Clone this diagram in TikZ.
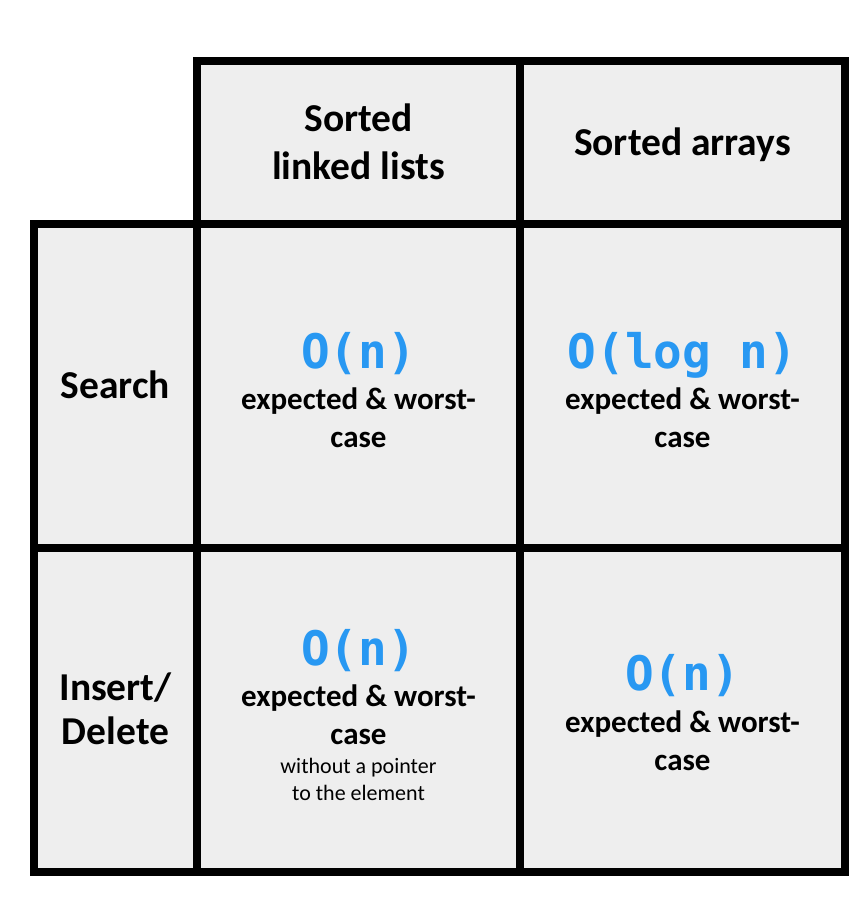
\documentclass[tikz,border=0pt]{standalone}
\usepackage{fontspec}
\setmainfont{Carlito}
\newfontfamily\monof{DejaVu Sans Mono}
\definecolor{cellgray}{RGB}{238,238,238}
\definecolor{oblue}{RGB}{40,152,242}
\tikzset{
  gridline/.style={line width=7.5pt, line join=miter, line cap=rect},
  head/.style={anchor=base, inner sep=0pt, font=\fontsize{39.5}{48}\selectfont\bfseries},
  bigo/.style={anchor=base, inner sep=0pt, text=oblue, font=\fontsize{47.6}{56}\selectfont\monof\bfseries},
  body/.style={anchor=base, inner sep=0pt, font=\fontsize{31}{38}\selectfont\bfseries},
  note/.style={anchor=base, inner sep=0pt, font=\fontsize{22}{27}\selectfont},
}
\begin{document}
\begin{tikzpicture}[x=1pt,y=-1pt]
\useasboundingbox (0,0) rectangle (864,906);
% backgrounds
\fill[cellgray] (197,61) rectangle (845,872);
\fill[cellgray] (34,224) rectangle (197,872);
% outer outline
\draw[gridline] (197,61) -- (845,61) -- (845,872) -- (34,872) -- (34,224) -- (197,224) -- cycle;
% inner lines
\draw[gridline] (197,224) -- (845,224);
\draw[gridline] (520,61) -- (520,872);
\draw[gridline] (197,224) -- (197,872);
\draw[gridline] (34,548) -- (845,548);
% headers
\node[head] (h1a) at (358.5,131) {Sorted};
\node[head] (h1b) at (358.5,179) {linked lists};
\node[head] (h2) at (682.5,155) {Sorted arrays};
\node[head] (r1) at (115.5,398) {Search};
\node[head] (r2a) at (115.5,700) {Insert/};
\node[head] (r2b) at (115.5,744) {Delete};
% row 1
\node[bigo] (c11o) at (358.5,368) {O(n)};
\node[body] (c11a) at (358.5,409) {expected \& worst-};
\node[body] (c11b) at (358.5,447) {case};
\node[bigo] (c12o) at (682.5,368) {O(log n)};
\node[body] (c12a) at (682.5,409) {expected \& worst-};
\node[body] (c12b) at (682.5,447) {case};
% row 2
\node[bigo] (c21o) at (358.5,665) {O(n)};
\node[body] (c21a) at (358.5,706) {expected \& worst-};
\node[body] (c21b) at (358.5,744) {case};
\node[note] (c21c) at (358.5,773) {without a pointer};
\node[note] (c21d) at (358.5,800) {to the element};
\node[bigo] (c22o) at (682.5,690) {O(n)};
\node[body] (c22a) at (682.5,732) {expected \& worst-};
\node[body] (c22b) at (682.5,770) {case};
\end{tikzpicture}
\end{document}
